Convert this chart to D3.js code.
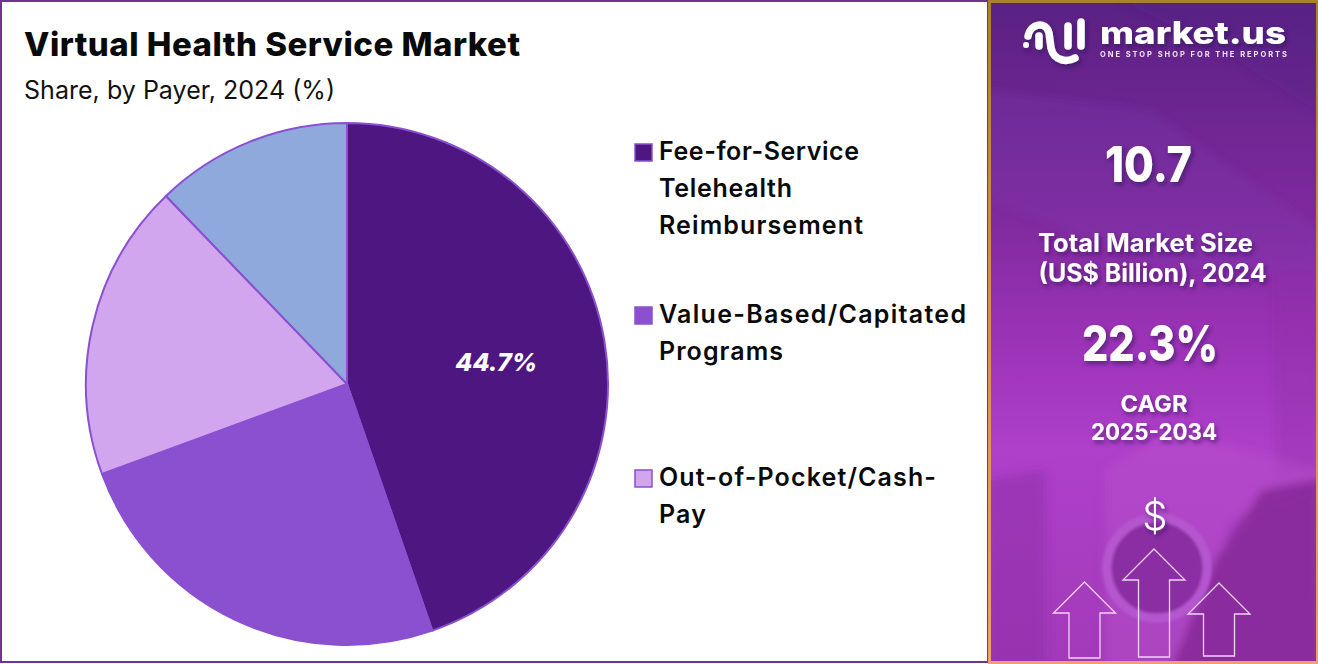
<!DOCTYPE html>
<html>
<head>
<meta charset="utf-8">
<script src="https://cdn.jsdelivr.net/npm/d3@7"></script>
<style>
  html, body { margin: 0; padding: 0; background: #fff; }
  svg { display: block; }
  text { font-family: Inter, "Noto Sans", sans-serif; }
</style>
</head>
<body>
<div id="chart"></div>
<script>
var chartTitle = "Virtual Health Service Market";
var chartSubtitle = "Share, by Payer, 2024 (%)";

// only the first share is printed
var payers = ["Fee-for-Service Telehealth Reimbursement", "Value-Based/Capitated Programs", "Out-of-Pocket/Cash-Pay", "Other"];
var shares = [44.7, 24.7, 18.4, 12.2];
var colours = ["#4e1681", "#8a50d0", "#d1a6ee", "#90a9dd"];
var shareLabels = ["44.7%", "", "", ""];

var legendLines = [["Fee-for-Service", "Telehealth", "Reimbursement"], ["Value-Based/Capitated", "Programs"], ["Out-of-Pocket/Cash-", "Pay"]];
var legendTops = [144, 307, 470];

var marketSize = "10.7";
var marketSizeLines = ["Total Market Size", "(US$ Billion), 2024"];
var cagr = "22.3%";
var cagrLines = ["CAGR", "2025-2034"];

var W = 1318, H = 664;
var svg = d3.select("#chart").append("svg").attr("width", W).attr("height", H);
var defs = svg.append("defs");

var grad = defs.append("linearGradient").attr("id", "panel").attr("x1", 0).attr("y1", 0).attr("x2", 0).attr("y2", 1);
grad.append("stop").attr("offset", "0%").attr("stop-color", "#5a2183");
grad.append("stop").attr("offset", "33%").attr("stop-color", "#802a9f");
grad.append("stop").attr("offset", "50%").attr("stop-color", "#9a32b5");
grad.append("stop").attr("offset", "68%").attr("stop-color", "#ae40ca");
grad.append("stop").attr("offset", "100%").attr("stop-color", "#a23ab8");

var edge = defs.append("linearGradient").attr("id", "edge").attr("x1", 0).attr("y1", 0).attr("x2", 0).attr("y2", 1);
edge.append("stop").attr("offset", "0%").attr("stop-color", "#a8812e");
edge.append("stop").attr("offset", "35%").attr("stop-color", "#d08a50");
edge.append("stop").attr("offset", "100%").attr("stop-color", "#f0a070");

var shadow = defs.append("filter").attr("id", "shadow").attr("x", "-20%").attr("y", "-30%").attr("width", "140%").attr("height", "170%");
shadow.append("feDropShadow").attr("dx", 2).attr("dy", 3).attr("stdDeviation", 2).attr("flood-color", "#2a0a50").attr("flood-opacity", 0.55);

var soft = defs.append("filter").attr("id", "soft").attr("x", "-20%").attr("y", "-20%").attr("width", "140%").attr("height", "140%");
soft.append("feGaussianBlur").attr("stdDeviation", 5);

var softer = defs.append("filter").attr("id", "softer").attr("x", "-20%").attr("y", "-20%").attr("width", "140%").attr("height", "140%");
softer.append("feGaussianBlur").attr("stdDeviation", 1.5);

var clip = defs.append("clipPath").attr("id", "panelClip");
clip.append("rect").attr("x", 991).attr("y", 3).attr("width", 325).attr("height", 658);

// left side
svg.append("rect").attr("x", 1).attr("y", 1).attr("width", 987).attr("height", 661)
  .attr("fill", "#fff").attr("stroke", "#6f3391").attr("stroke-width", 2);

function fitText(parent, str, x, y, size, weight, width, fill) {
  return parent.append("text").attr("x", x).attr("y", y)
    .attr("font-size", size).attr("font-weight", weight).attr("fill", fill)
    .attr("textLength", width).attr("lengthAdjust", "spacing").text(str);
}

fitText(svg, chartTitle, 24, 56, 33, 800, 496, "#0a0a0a");
fitText(svg, chartSubtitle, 24, 99, 25, 400, 311, "#111");

// pie
var pie = d3.pie().sort(null).value(function(d) { return d; });
var radius = 261;
var arc = d3.arc().innerRadius(0).outerRadius(radius);
var g = svg.append("g").attr("transform", "translate(347,384)");

g.selectAll("path").data(pie(shares)).enter().append("path")
  .attr("d", arc)
  .attr("fill", function(d, i) { return colours[i]; })
  .attr("stroke", "#8a50d0").attr("stroke-width", 2);

var labelArc = d3.arc().innerRadius(radius * 0.58).outerRadius(radius * 0.58);
g.selectAll("text").data(pie(shares)).enter().append("text")
  .attr("transform", function(d) { return "translate(" + labelArc.centroid(d) + ")"; })
  .attr("dy", "0.5em").attr("text-anchor", "middle")
  .attr("font-size", 25).attr("font-weight", 800).attr("font-style", "italic").attr("fill", "#fff")
  .text(function(d, i) { return shareLabels[i]; });

// legend
var legendWidths = [[200, 133, 204], [307, 124], [277, 47]];
var legend = svg.append("g");
legendLines.forEach(function(lines, i) {
  legend.append("rect").attr("x", 635).attr("y", legendTops[i]).attr("width", 17).attr("height", 17)
    .attr("fill", colours[i]).attr("stroke", "#8a50d0").attr("stroke-width", 1.5);
  lines.forEach(function(line, j) {
    fitText(legend, line, 659, legendTops[i] + 16 + j * 37, 25, 600, legendWidths[i][j], "#0a0a0a");
  });
});

// right panel
var panel = svg.append("g");
panel.append("rect").attr("x", 988).attr("y", 0).attr("width", 330).attr("height", 664).attr("fill", "url(#edge)");
panel.append("rect").attr("x", 991).attr("y", 3).attr("width", 325).attr("height", 658).attr("fill", "url(#panel)");

// faded photo behind the panel
var photoShapes = [
  {d: "M1120,0 L1316,0 L1316,110 L1220,50 Z", fill: "#4a2a8a", op: 0.22},
  {d: "M985,90 L1150,110 L1320,230 L1320,270 L1180,270 L985,200 Z", fill: "#7a3ab0", op: 0.25},
  {d: "M1275,270 L1320,270 L1320,470 L1275,480 Z", fill: "#8f2ca6", op: 0.3},
  {d: "M985,480 L1045,470 L1045,670 L985,670 Z", fill: "#8a2ca4", op: 0.45},
  {d: "M1105,470 L1170,430 L1320,470 L1320,490 L1230,520 L1190,670 L1105,670 Z", fill: "#bb55cc", op: 0.4},
  {d: "M1320,478 L1262,490 L1215,560 L1170,670 L1320,670 Z", fill: "#892a9c", op: 0.95}
];
var photoClip = panel.append("g").attr("clip-path", "url(#panelClip)");
var photo = photoClip.append("g").attr("filter", "url(#soft)");
photo.selectAll("path").data(photoShapes).enter().append("path")
  .attr("d", function(d) { return d.d; }).attr("fill", function(d) { return d.fill; }).attr("opacity", function(d) { return d.op; });
photoClip.append("circle").attr("cx", 1157).attr("cy", 568).attr("r", 50).attr("filter", "url(#softer)")
  .attr("fill", "#8b2fa3").attr("stroke", "#b556cf").attr("stroke-width", 9);

// logo
var logo = panel.append("g").attr("fill", "none").attr("stroke", "#fff").attr("stroke-linecap", "round").attr("filter", "url(#shadow)");
logo.append("path").attr("d", "M1028,36 C1030,24 1046,20 1049,33 L1051,48 C1054,62 1068,62 1075,58").attr("stroke-width", 7.5);
logo.append("path").attr("d", "M1039,36 L1039,46").attr("stroke-width", 7.5);
logo.append("path").attr("d", "M1068,26 L1068,46").attr("stroke-width", 7.5);
logo.append("path").attr("d", "M1081,22 L1081,46").attr("stroke-width", 7.5);
logo.append("circle").attr("cx", 1026).attr("cy", 45).attr("r", 3).attr("fill", "#fff").attr("stroke", "none");

fitText(panel, "market.us", 1100, 44, 31, 800, 186, "#fff").attr("lengthAdjust", "spacingAndGlyphs").attr("filter", "url(#shadow)");
fitText(panel, "ONE STOP SHOP FOR THE REPORTS", 1100, 57, 7.5, 700, 187, "#f3e3f7");

function panelText(str, x, y, size, weight, width) {
  var t = panel.append("text").attr("x", x).attr("y", y).attr("text-anchor", "middle")
    .attr("font-size", size).attr("font-weight", weight).attr("fill", "#fff").attr("filter", "url(#shadow)").text(str);
  if (width) t.attr("textLength", width).attr("lengthAdjust", "spacingAndGlyphs");
  return t;
}
panelText(marketSize, 1148.5, 182, 50, 800, 87);
panelText(marketSizeLines[0], 1145.5, 252, 25, 700, 215);
panelText(marketSizeLines[1], 1152.5, 282, 25, 700, 228);
panelText(cagr, 1150, 361, 50, 800, 136);
panelText(cagrLines[0], 1154, 412, 23, 700, 67);
panelText(cagrLines[1], 1154, 440, 23, 700, 126);
panelText("$", 1155, 530, 40, 300);

// arrows
var arrowX = [1084.5, 1154, 1219];
var arrowTop = [582, 549, 583];
var arrowBottom = [658, 657, 656];
var arrowLine = d3.line();
arrowX.forEach(function(x, i) {
  var t = arrowTop[i];
  panel.append("path")
    .attr("d", arrowLine([[x, t], [x + 31, t + 31], [x + 15.5, t + 31], [x + 15.5, arrowBottom[i]], [x - 15.5, arrowBottom[i]], [x - 15.5, t + 31], [x - 31, t + 31]]) + "Z")
    .attr("fill", "none").attr("stroke", "#f2d3f7").attr("stroke-width", 1.3);
});
</script>
</body>
</html>
